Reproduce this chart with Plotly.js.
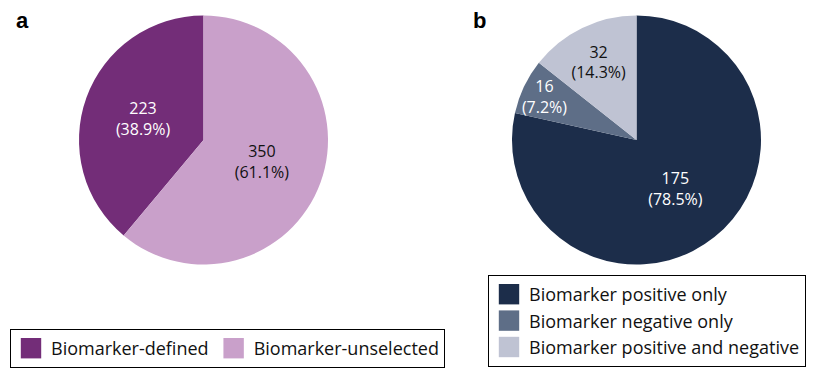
<!DOCTYPE html>
<html>
<head>
<meta charset="utf-8">
<script src="https://cdn.plot.ly/plotly-3.0.1.min.js"></script>
<style>
html,body{margin:0;padding:0;background:#fff;}
#chart{width:821px;height:385px;}
</style>
</head>
<body>
<div id="chart"></div>
<script>
// Panel a
const labelsA = ["Biomarker-defined", "Biomarker-unselected"];
const valuesA = [223, 350];
const colorsA = ["#732D78", "#C9A0CA"];
const textColorsA = ["#ffffff", "#111111"];

// Panel b
const labelsB = ["Biomarker positive only", "Biomarker negative only", "Biomarker positive and negative"];
const valuesB = [175, 16, 32];
const colorsB = ["#1C2D4A", "#5E6E87", "#BFC3D3"];
const textColorsB = ["#ffffff", "#ffffff", "#111111"];

const panelLetters = ["a", "b"];

const FONT = "Open Sans, Liberation Sans, sans-serif";

const totalA = valuesA.reduce((s, v) => s + v, 0);

const traceA = {
  type: "pie",
  labels: labelsA,
  values: valuesA,
  sort: false,
  direction: "clockwise",
  rotation: -360 * valuesA[0] / totalA,
  marker: {colors: colorsA, line: {width: 0}},
  texttemplate: "%{value}<br>(%{percent:.1%})",
  textposition: "inside",
  insidetextorientation: "horizontal",
  insidetextfont: {family: FONT, size: 16, color: textColorsA},
  hoverinfo: "none",
  domain: {x: [79/821, 328/821], y: [1 - 265/385, 1 - 15/385]},
  legend: "legend"
};

const traceB = {
  type: "pie",
  labels: labelsB,
  values: valuesB,
  sort: false,
  direction: "clockwise",
  rotation: 0,
  marker: {colors: colorsB, line: {width: 0}},
  texttemplate: "%{value}<br>(%{percent:.1%})",
  textposition: "inside",
  insidetextorientation: "horizontal",
  insidetextfont: {family: FONT, size: 16, color: textColorsB},
  hoverinfo: "none",
  domain: {x: [512/821, 761/821], y: [1 - 265/385, 1 - 15/385]},
  legend: "legend2"
};

const layout = {
  width: 821,
  height: 385,
  margin: {l: 0, r: 0, t: 0, b: 0},
  paper_bgcolor: "#ffffff",
  font: {family: FONT, size: 16, color: "#111111"},
  showlegend: true,
  uniformtext: {mode: "show", minsize: 16},
  legend: {
    orientation: "h",
    x: 10/821, y: 1 - 329/385, xanchor: "left", yanchor: "top",
    bordercolor: "#000000", borderwidth: 1,
    font: {family: FONT, size: 18, color: "#111111"},
    itemclick: false, itemdoubleclick: false
  },
  legend2: {
    orientation: "v",
    x: 488/821, y: 1 - 275/385, xanchor: "left", yanchor: "top",
    bordercolor: "#000000", borderwidth: 1,
    font: {family: FONT, size: 18, color: "#111111"},
    itemclick: false, itemdoubleclick: false
  },
  annotations: [
    {text: "<b>" + panelLetters[0] + "</b>", xref: "paper", yref: "paper", x: 14/821, y: 1 - 6/385, xanchor: "left", yanchor: "top", showarrow: false, font: {family: "Liberation Sans, Arial, sans-serif", size: 22, color: "#000"}},
    {text: "<b>" + panelLetters[1] + "</b>", xref: "paper", yref: "paper", x: 471/821, y: 1 - 6/385, xanchor: "left", yanchor: "top", showarrow: false, font: {family: "Liberation Sans, Arial, sans-serif", size: 22, color: "#000"}}
  ]
};

Plotly.newPlot("chart", [traceA, traceB], layout, {displayModeBar: false, staticPlot: true}).then(function () {
  // enlarge the legend swatches to match the reference's larger squares
  document.querySelectorAll("#chart .legendpoints path").forEach(function (p) {
    const t = p.getAttribute("transform") || "";
    p.setAttribute("transform", t + " scale(1.7)");
  });
});
</script>
</body>
</html>
